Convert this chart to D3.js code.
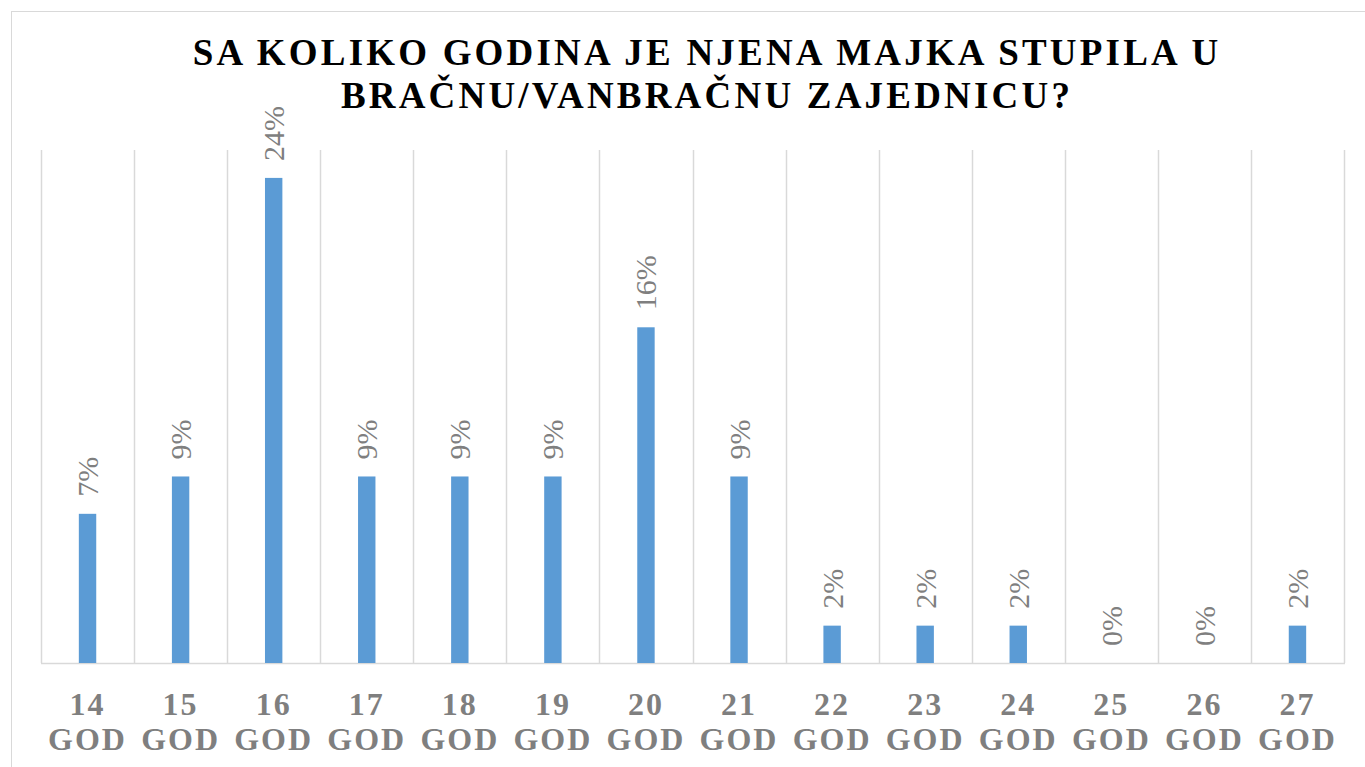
<!DOCTYPE html>
<html>
<head>
<meta charset="utf-8">
<script src="https://cdn.jsdelivr.net/npm/d3@7"></script>
<style>
  body { margin: 0; background: #fff; }
  svg { display: block; }
</style>
</head>
<body>
<script>
// chart values
var ages = ["14", "15", "16", "17", "18", "19", "20", "21", "22", "23", "24", "25", "26", "27"]
var percents = [7.27, 9.09, 23.64, 9.09, 9.09, 9.09, 16.36, 9.09, 1.82, 1.82, 1.82, 0, 0, 1.82]
var titleLines = ["SA KOLIKO GODINA JE NJENA MAJKA STUPILA U", "BRAČNU/VANBRAČNU ZAJEDNICU?"]

var width = 1365, height = 767
var plot = {left: 41, right: 1344, top: 150, bottom: 663}

var svg = d3.select("body").append("svg")
    .attr("width", width)
    .attr("height", height)

// outer chart border (runs off the picture on right and bottom)
svg.append("rect")
    .attr("x", 11.5).attr("y", 11.5)
    .attr("width", 1400).attr("height", 800)
    .attr("fill", "white")
    .attr("stroke", "#d9d9d9")
    .attr("stroke-width", 1)

var x = d3.scaleBand()
    .domain(ages)
    .range([plot.left, plot.right])
    .paddingInner(0)

var y = d3.scaleLinear()
    .domain([0, 25])
    .range([plot.bottom, plot.top])

// title
svg.selectAll(".title")
    .data(titleLines)
    .join("text")
    .attr("class", "title")
    .attr("x", 707)
    .attr("y", (d, i) => 65 + i * 43)
    .attr("text-anchor", "middle")
    .attr("font-family", "'Liberation Serif', 'Times New Roman', serif")
    .attr("font-weight", "bold")
    .attr("font-size", 37)
    .attr("letter-spacing", 3.2)
    .attr("fill", "#000")
    .text(d => d)

// vertical gridlines at band edges
var edges = ages.map(d => x(d)).concat([plot.right])
svg.selectAll(".grid")
    .data(edges)
    .join("line")
    .attr("class", "grid")
    .attr("x1", d => Math.round(d) + 0.5)
    .attr("x2", d => Math.round(d) + 0.5)
    .attr("y1", plot.top)
    .attr("y2", plot.bottom)
    .attr("stroke", "#d9d9d9")
    .attr("stroke-width", 1.5)

// baseline
svg.append("line")
    .attr("x1", plot.left).attr("x2", plot.right + 1)
    .attr("y1", plot.bottom + 0.5).attr("y2", plot.bottom + 0.5)
    .attr("stroke", "#d9d9d9")
    .attr("stroke-width", 1.5)

var barW = x.bandwidth() * 0.187

svg.selectAll(".bar")
    .data(percents)
    .join("rect")
    .attr("class", "bar")
    .attr("x", (d, i) => x(ages[i]) + x.bandwidth() / 2 - barW / 2)
    .attr("width", barW)
    .attr("y", d => y(d))
    .attr("height", d => y(0) - y(d))
    .attr("fill", "#5b9bd5")

// value labels, rotated
svg.selectAll(".val")
    .data(percents)
    .join("text")
    .attr("class", "val")
    .attr("transform", (d, i) => {
        var cx = x(ages[i]) + x.bandwidth() / 2 + 10.5
        var cy = y(d) - 17
        return "translate(" + cx + "," + cy + ") rotate(-90)"
    })
    .attr("text-anchor", "start")
    .attr("font-family", "'Liberation Serif', 'Times New Roman', serif")
    .attr("font-size", 30)
    .attr("fill", "#7f7f7f")
    .text(d => Math.round(d) + "%")

// category labels, two lines
var cat = svg.selectAll(".cat")
    .data(ages)
    .join("text")
    .attr("class", "cat")
    .attr("text-anchor", "middle")
    .attr("font-family", "'Liberation Serif', 'Times New Roman', serif")
    .attr("font-weight", "bold")
    .attr("font-size", 32)
    .attr("letter-spacing", 2)
    .attr("fill", "#7f7f7f")

cat.append("tspan")
    .attr("x", d => x(d) + x.bandwidth() / 2)
    .attr("y", 715)
    .text(d => d)
cat.append("tspan")
    .attr("x", d => x(d) + x.bandwidth() / 2)
    .attr("y", 750)
    .text("GOD")
</script>
</body>
</html>
